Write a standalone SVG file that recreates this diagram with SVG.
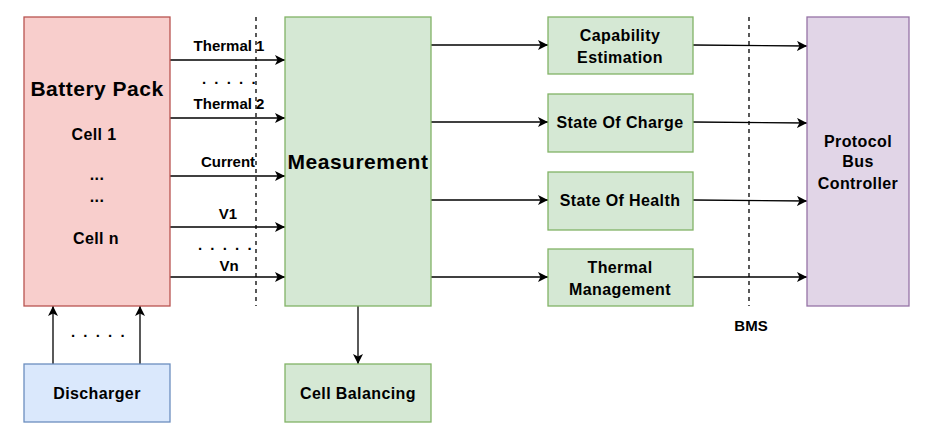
<svg xmlns="http://www.w3.org/2000/svg" width="933" height="444" viewBox="0 0 933 444">
<style>
text{font-family:"Liberation Sans",Arial,sans-serif;font-weight:bold;fill:#000;text-anchor:middle}
.t14{font-size:16px;letter-spacing:0.4px}
.t13{font-size:15px}
.t18{font-size:21px;letter-spacing:0.5px}
.dots{font-size:15px;letter-spacing:8.2px;text-anchor:start}
.c{stroke:#000;stroke-width:1.3;fill:none}
.d{stroke:#000;stroke-width:1.3;stroke-dasharray:4 4;fill:none}
.g{fill:#d5e8d4;stroke:#82b366;stroke-width:1.3}
</style>
<defs>
<marker id="a" viewBox="0 0 10 10" refX="10" refY="5" markerWidth="10" markerHeight="10" markerUnits="userSpaceOnUse" orient="auto">
<path d="M0,0 L10,5 L0,10 L2.5,5 Z" fill="#000"/>
</marker>
</defs>
<rect width="933" height="444" fill="#fff"/>
<g id="connectors">
<path class="d" d="M256,17 V306"/>
<path class="d" d="M749,17 V306"/>
<path class="c" marker-end="url(#a)" d="M170,60 H285"/>
<path class="c" marker-end="url(#a)" d="M170,118 H285"/>
<path class="c" marker-end="url(#a)" d="M170,176 H285"/>
<path class="c" marker-end="url(#a)" d="M170,227 H285"/>
<path class="c" marker-end="url(#a)" d="M170,277 H285"/>
<path class="c" marker-end="url(#a)" d="M431,45 H548"/>
<path class="c" marker-end="url(#a)" d="M431,122 H548"/>
<path class="c" marker-end="url(#a)" d="M431,200 H548"/>
<path class="c" marker-end="url(#a)" d="M431,277 H548"/>
<path class="c" marker-end="url(#a)" d="M693,45 L807,46"/>
<path class="c" marker-end="url(#a)" d="M693,122 L807,123"/>
<path class="c" marker-end="url(#a)" d="M693,200 L807,201"/>
<path class="c" marker-end="url(#a)" d="M693,277 H807"/>
<path class="c" marker-end="url(#a)" d="M53,364 V306"/>
<path class="c" marker-end="url(#a)" d="M140,364 V306"/>
<path class="c" marker-end="url(#a)" d="M358,306 V364"/>
<text class="t13" x="229" y="51">Thermal 1</text>
<text class="dots" x="202" y="84">.....</text>
<text class="t13" x="229" y="109">Thermal 2</text>
<text class="t13" x="228" y="167">Current</text>
<text class="t13" x="228" y="219">V1</text>
<text class="dots" x="198" y="250">.....</text>
<text class="t13" x="229" y="271">Vn</text>
<text class="dots" x="71" y="337">.....</text>
<text class="t13" x="751" y="331">BMS</text>
</g>
<g id="battery">
<rect x="24" y="17" width="146" height="289" fill="#f8cecc" stroke="#b85450" stroke-width="1.3"/>
<text class="t18" x="97" y="96">Battery Pack</text>
<text class="t14" x="94" y="140">Cell 1</text>
<text class="t14" x="97" y="180">...</text>
<text class="t14" x="97" y="202">...</text>
<text class="t14" x="96" y="244">Cell n</text>
</g>
<g id="measurement">
<rect class="g" x="285" y="17" width="146" height="289"/>
<text class="t18" x="358" y="169">Measurement</text>
</g>
<g id="capability">
<rect class="g" x="548" y="17" width="145" height="57"/>
<text class="t14" x="620" y="41">Capability</text>
<text class="t14" x="620" y="63">Estimation</text>
</g>
<g id="soc">
<rect class="g" x="548" y="94" width="145" height="58"/>
<text class="t14" x="620" y="128">State Of Charge</text>
</g>
<g id="soh">
<rect class="g" x="548" y="172" width="145" height="58"/>
<text class="t14" x="620" y="206">State Of Health</text>
</g>
<g id="thermal">
<rect class="g" x="548" y="249" width="145" height="57"/>
<text class="t14" x="620" y="273">Thermal</text>
<text class="t14" x="620" y="295">Management</text>
</g>
<g id="protocol">
<rect x="807" y="17" width="102" height="289" fill="#e1d5e7" stroke="#9673a6" stroke-width="1.3"/>
<text class="t14" x="858" y="147">Protocol</text>
<text class="t14" x="858" y="167">Bus</text>
<text class="t14" x="858" y="189">Controller</text>
</g>
<g id="discharger">
<rect x="24" y="364" width="146" height="58" fill="#dae8fc" stroke="#6c8ebf" stroke-width="1.3"/>
<text class="t14" x="97" y="399">Discharger</text>
</g>
<g id="cellbalancing">
<rect class="g" x="285" y="364" width="146" height="58"/>
<text class="t14" x="358" y="399">Cell Balancing</text>
</g>
</svg>
